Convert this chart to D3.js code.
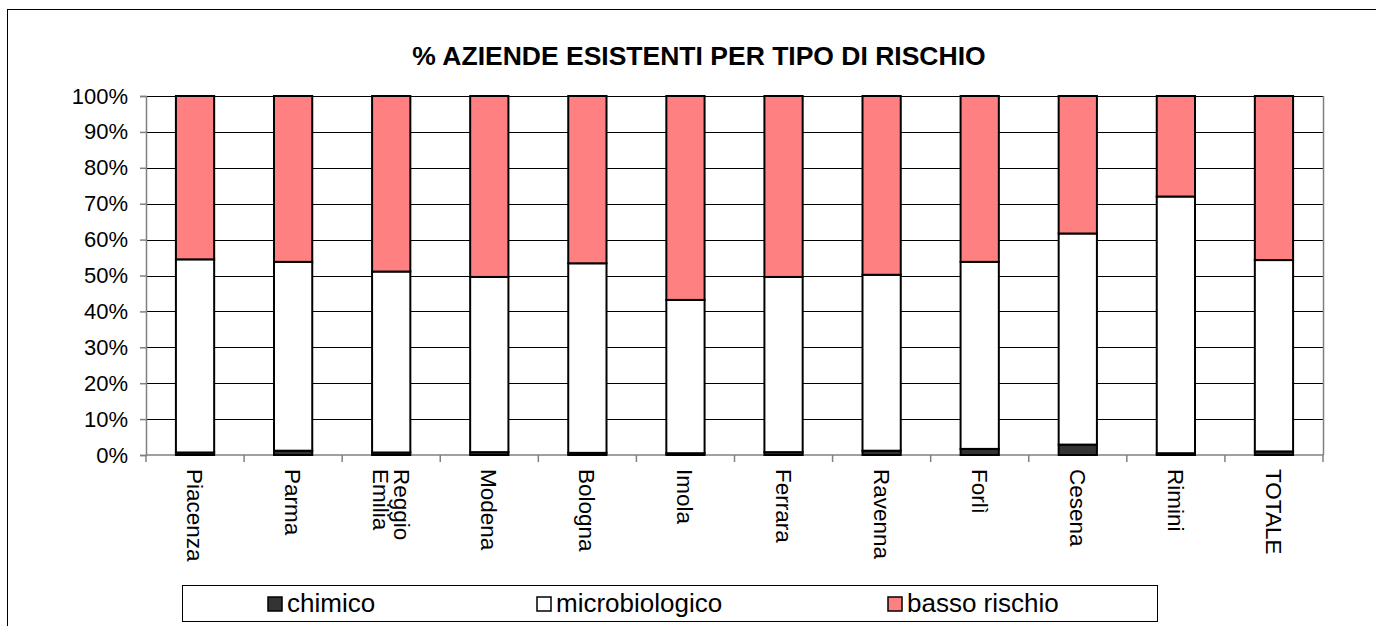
<!DOCTYPE html>
<html>
<head>
<meta charset="utf-8">
<script src="https://cdn.jsdelivr.net/npm/d3@7"></script>
<style>
  body { margin: 0; background: #fff; }
  svg { display: block; font-family: Arial, "Liberation Sans", sans-serif; }
</style>
</head>
<body>
<script>
// data (share of companies per risk type, %)
const categories = ['Piacenza', 'Parma', 'Reggio\nEmilia', 'Modena', 'Bologna', 'Imola',
  'Ferrara', 'Ravenna', 'Forlì', 'Cesena', 'Rimini', 'TOTALE'];
const chimico = [0.7, 1.2, 0.7, 0.8, 0.6, 0.5, 0.8, 1.2, 1.7, 2.9, 0.5, 1.0];
const microbiologico = [53.8, 52.6, 50.4, 48.8, 52.8, 42.7, 48.8, 49.0, 52.1, 58.8, 71.5, 53.3];
const bassoRischio = chimico.map((c, i) => +(100 - c - microbiologico[i]).toFixed(1));
const seriesNames = ['chimico', 'microbiologico', 'basso rischio'];
const seriesColors = ['#333333', '#ffffff', '#ff8080'];
const yTicks = [0, 10, 20, 30, 40, 50, 60, 70, 80, 90, 100];

const width = 1376;
const height = 626;
const margin = { top: 96, right: 53, bottom: 171, left: 146 };
const innerWidth = width - margin.left - margin.right;
const innerHeight = height - margin.top - margin.bottom;

const svg = d3.select('body')
  .append('svg')
  .attr('width', width)
  .attr('height', height);

// outer chart frame (runs off the bottom/right of the picture)
svg.append('rect')
  .attr('x', 7.5)
  .attr('y', 9.5)
  .attr('width', width + 20)
  .attr('height', height + 20)
  .attr('fill', 'none')
  .attr('stroke', '#000')
  .attr('stroke-width', 1);

svg.append('text')
  .attr('x', 699)
  .attr('y', 65)
  .attr('text-anchor', 'middle')
  .attr('font-size', 26.5)
  .attr('font-weight', 'bold')
  .text('% AZIENDE ESISTENTI PER TIPO DI RISCHIO');

const chart = svg.append('g')
  .attr('transform', `translate(${margin.left}, ${margin.top})`);

const xScale = d3.scaleBand()
  .domain(categories)
  .range([0, innerWidth])
  .paddingInner(0.61)
  .paddingOuter(0.305);

const xTicks = d3.scaleBand()
  .domain(categories)
  .range([0, innerWidth]);

const yScale = d3.scaleLinear()
  .domain([0, 100])
  .range([innerHeight, 0]);

// gridlines
chart.append('g')
  .selectAll('line')
  .data(yTicks.slice(1))
  .enter()
  .append('line')
  .attr('x1', 0)
  .attr('x2', innerWidth)
  .attr('y1', d => Math.round(yScale(d)) + 0.5)
  .attr('y2', d => Math.round(yScale(d)) + 0.5)
  .attr('stroke', '#000')
  .attr('stroke-width', 1);

// right border of plot area
chart.append('line')
  .attr('x1', innerWidth + 0.5)
  .attr('x2', innerWidth + 0.5)
  .attr('y1', 0)
  .attr('y2', innerHeight)
  .attr('stroke', '#808080')
  .attr('stroke-width', 1.5);

// y axis
const yAxis = d3.axisLeft(yScale)
  .tickValues(yTicks)
  .tickSize(6)
  .tickFormat(d => d + '%');

const yG = chart.append('g')
  .attr('class', 'y-axis')
  .call(yAxis);
yG.selectAll('.domain, .tick line').attr('stroke', '#808080').attr('stroke-width', 1.5);
yG.selectAll('text')
  .attr('font-size', 22)
  .attr('font-family', 'Arial, "Liberation Sans", sans-serif')
  .attr('fill', '#000')
  .attr('x', -18);

// x axis: ticks at band boundaries
const xG = chart.append('g')
  .attr('class', 'x-axis')
  .attr('transform', `translate(0, ${innerHeight})`);
xG.append('line')
  .attr('x1', 0)
  .attr('x2', innerWidth)
  .attr('stroke', '#808080')
  .attr('stroke-width', 1.5);
xG.selectAll('.xtick')
  .data(categories.concat(['end']))
  .enter()
  .append('line')
  .attr('class', 'xtick')
  .attr('x1', (d, i) => i === categories.length ? innerWidth : xTicks(d))
  .attr('x2', (d, i) => i === categories.length ? innerWidth : xTicks(d))
  .attr('y1', 0)
  .attr('y2', 7)
  .attr('stroke', '#808080')
  .attr('stroke-width', 1.5);

// rotated category labels
const labels = xG.selectAll('.xlabel')
  .data(categories)
  .enter()
  .append('text')
  .attr('class', 'xlabel')
  .attr('font-size', 22.5)
  .attr('transform', d => `translate(${xTicks(d) + xTicks.bandwidth() / 2}, 14) rotate(90)`);
labels.each(function (d) {
  const lines = d.split('\n');
  const t = d3.select(this);
  lines.forEach((line, j) => {
    t.append('tspan')
      .attr('x', 0)
      .attr('y', (j - (lines.length - 1) / 2) * 21 + 8)
      .text(line);
  });
});

// stacked bars
const rows = categories.map((c, i) => ({
  name: c,
  chimico: chimico[i],
  microbiologico: microbiologico[i],
  'basso rischio': bassoRischio[i]
}));
const stacked = d3.stack().keys(seriesNames)(rows);

chart.selectAll('.series')
  .data(stacked)
  .enter()
  .append('g')
  .attr('class', 'series')
  .attr('fill', (d, i) => seriesColors[i])
  .selectAll('rect')
  .data(d => d)
  .enter()
  .append('rect')
  .attr('x', d => xScale(d.data.name))
  .attr('y', d => yScale(d[1]))
  .attr('width', xScale.bandwidth())
  .attr('height', d => yScale(d[0]) - yScale(d[1]))
  .attr('stroke', '#000')
  .attr('stroke-width', 2);

// legend
const legend = svg.append('g')
  .attr('class', 'legend');
legend.append('rect')
  .attr('x', 182.5)
  .attr('y', 585.5)
  .attr('width', 975)
  .attr('height', 36)
  .attr('fill', '#fff')
  .attr('stroke', '#000')
  .attr('stroke-width', 1);

const legendX = [268, 537, 888];
legend.selectAll('.legend-item')
  .data(seriesNames)
  .enter()
  .append('g')
  .attr('class', 'legend-item')
  .attr('transform', (d, i) => `translate(${legendX[i]}, 597)`)
  .each(function (d, i) {
    d3.select(this)
      .append('rect')
      .attr('width', 14)
      .attr('height', 14)
      .attr('fill', seriesColors[i])
      .attr('stroke', '#000')
      .attr('stroke-width', 1.5);

    d3.select(this)
      .append('text')
      .attr('x', 19)
      .attr('y', 15)
      .attr('font-size', 26)
      .text(d);
  });
</script>
</body>
</html>
